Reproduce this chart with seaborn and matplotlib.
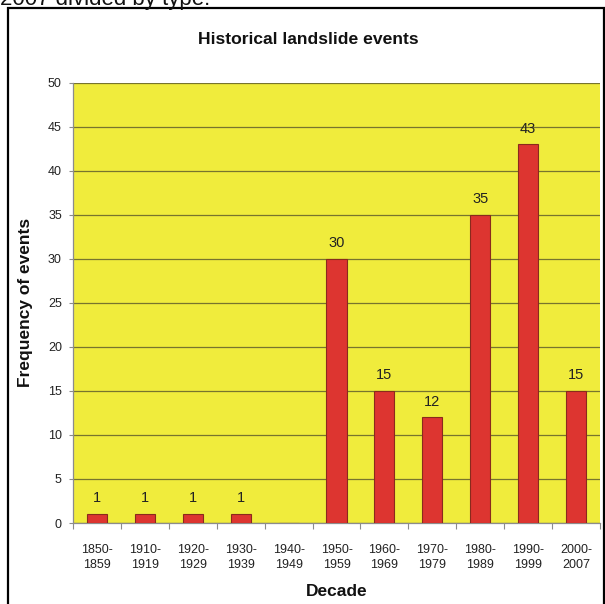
import matplotlib
matplotlib.use("Agg")
import matplotlib.pyplot as plt
import seaborn as sns
import pandas as pd
import numpy as np
from matplotlib.patches import Rectangle
from matplotlib.ticker import FixedLocator

# Landslide event counts per decade
decades = ["1850-\n1859", "1910-\n1919", "1920-\n1929", "1930-\n1939", "1940-\n1949",
           "1950-\n1959", "1960-\n1969", "1970-\n1979", "1980-\n1989", "1990-\n1999",
           "2000-\n2007"]
events = [1, 1, 1, 1, 0, 30, 15, 12, 35, 43, 15]
yticks = list(range(0, 51, 5))

sns.set_theme(style="white")
plt.rcParams["font.family"] = ["Liberation Sans", "DejaVu Sans"]

df = pd.DataFrame({"Decade": decades, "Events": events})

fig = plt.figure(figsize=(6.05, 6.04), dpi=100)
ax = fig.add_axes([73 / 605, 1 - 523 / 604, 527 / 605, (523 - 82.7) / 604])

sns.barplot(data=df, x="Decade", y="Events", ax=ax, color="#dd3530",
            saturation=1, width=0.42, edgecolor="#8a2a1c", linewidth=0.8, zorder=3)

ax.set_facecolor("#f0ec3c")
ax.set_ylim(0, 50)
ax.set_xlim(-0.5, len(decades) - 0.5)
ax.set_yticks(yticks)
ax.yaxis.grid(True, color="#77742e", linewidth=0.9, zorder=1)
ax.set_axisbelow(True)

# value labels above bars (skip empty decade)
for i, v in enumerate(events):
    if v > 0:
        ax.text(i, v + 1.0, str(v), ha="center", va="bottom", fontsize=10.5, color="#222222")

for s in ["top", "right"]:
    ax.spines[s].set_visible(False)
for s in ["left", "bottom"]:
    ax.spines[s].set_color("#8c8c8c")
    ax.spines[s].set_linewidth(0.9)

ax.tick_params(axis="y", which="major", left=True, length=3, width=0.8,
               color="#8c8c8c", labelsize=9, labelcolor="#222222", pad=5)
# x tick marks sit between categories, labels under each bar
ax.tick_params(axis="x", which="major", bottom=False, labelsize=9,
               labelcolor="#222222", pad=9)
ax.xaxis.set_minor_locator(FixedLocator(np.arange(-0.5, len(decades), 1.0)))
ax.tick_params(axis="x", which="minor", bottom=True, length=4, width=0.8,
               color="#8c8c8c", direction="out")
for lbl in ax.get_xticklabels():
    lbl.set_linespacing(1.3)

ax.set_xlabel("Decade", fontsize=12.5, fontweight="bold", color="#111111")
ax.set_ylabel("Frequency of events", fontsize=12.5, fontweight="bold", color="#111111")
ax.yaxis.set_label_coords((33 - 73) / 527, 0.5)
ax.xaxis.set_label_coords(0.5, (523 - 584) / 440.3)

fig.text(308 / 605, 1 - 39.5 / 604, "Historical landslide events", ha="center", va="center",
         fontsize=12.6, fontweight="bold", color="#111111")

# caption text running above the framed chart
fig.text(0.0, 1 - 5 / 604, "2007 divided by type.", ha="left", va="baseline",
         fontsize=16, color="#111111")

# outer frame around the chart
fig.patches.append(Rectangle((7.5 / 605, -0.05), (604 - 7.5) / 605, 1.05 - 7.5 / 604,
                             transform=fig.transFigure, fill=False,
                             edgecolor="black", linewidth=1.6))

fig.savefig("out.png", dpi=100)
